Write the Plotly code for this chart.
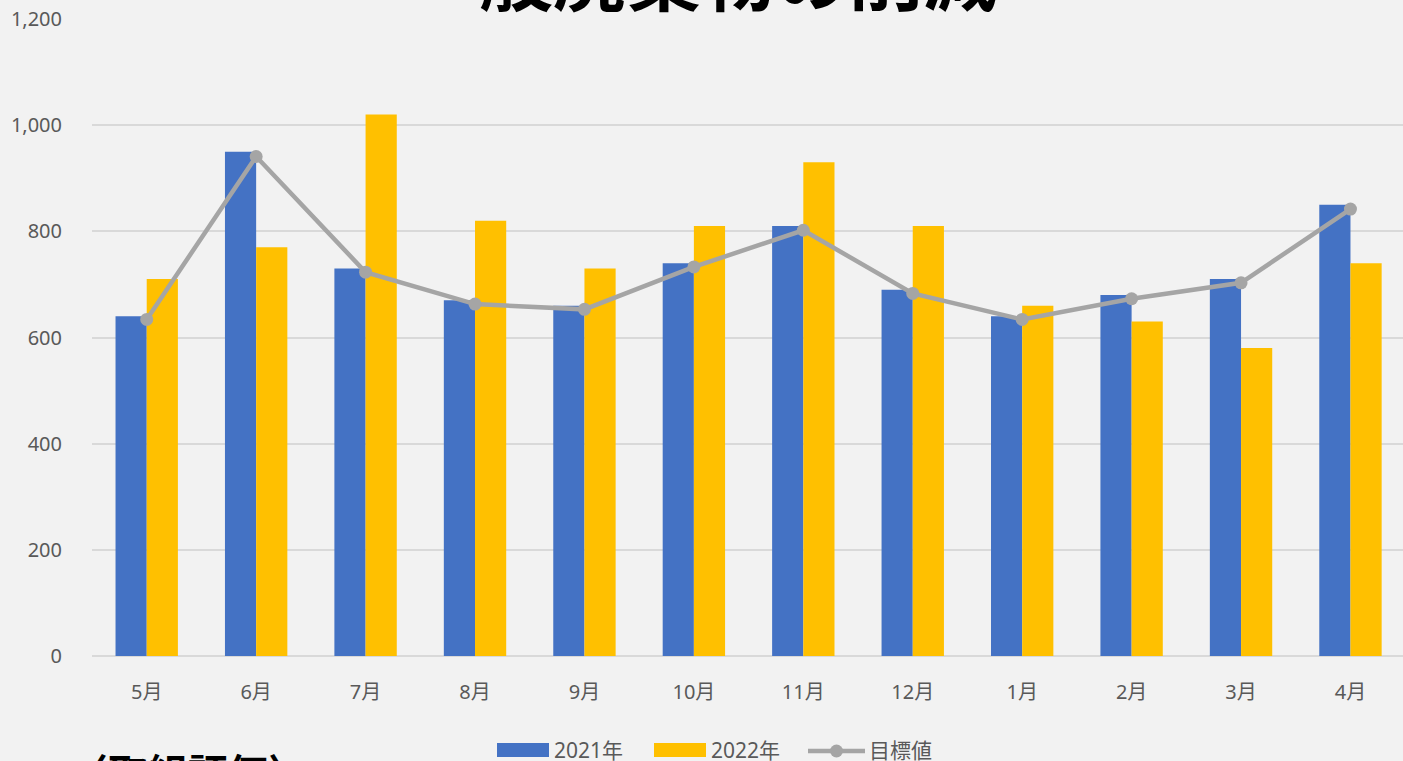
import plotly.graph_objects as go

months = ["5月", "6月", "7月", "8月", "9月", "10月", "11月", "12月", "1月", "2月", "3月", "4月"]
y2021 = [640, 950, 730, 670, 660, 740, 810, 690, 640, 680, 710, 850]
y2022 = [710, 770, 1020, 820, 730, 810, 930, 810, 660, 630, 580, 740]
target = [634, 941, 723, 663, 653, 733, 802, 683, 634, 673, 703, 842]
series_names = ["2021年", "2022年", "目標値"]
title_text = "一般廃棄物の削減"
note_text = "〈取組評価〉"

BLUE = "#4472C4"
YELLOW = "#FFC000"
GRAY = "#A5A5A5"
TXT = "#595959"
BG = "#F2F2F2"

W, H = 1403, 761
L, R, T, B = 92, 0, 19, 105
PW, PH = W - L - R, H - T - B


def px(x):
    return (x - L) / PW


def py(y):
    return (H - B - y) / PH


fig = go.Figure()
fig.add_trace(go.Bar(x=months, y=y2021, name=series_names[0], marker=dict(color=BLUE, line=dict(width=0))))
fig.add_trace(go.Bar(x=months, y=y2022, name=series_names[1], marker=dict(color=YELLOW, line=dict(width=0))))
fig.add_trace(go.Scatter(x=months, y=target, name=series_names[2], mode="lines+markers",
                         line=dict(color=GRAY, width=4.5), marker=dict(color=GRAY, size=13)))

font_main = "Noto Sans, Noto Sans CJK JP, sans-serif"

fig.update_layout(
    width=W, height=H,
    margin=dict(l=L, r=R, t=T, b=B, pad=0),
    paper_bgcolor=BG, plot_bgcolor=BG,
    barmode="group", bargap=0.43, bargroupgap=0,
    showlegend=False,
    font=dict(family=font_main, color=TXT, size=20),
    xaxis=dict(range=[-0.5, 11.48], showgrid=False, showline=False, zeroline=False,
               ticks="", tickfont=dict(size=20, color=TXT), ticklabelstandoff=22),
    yaxis=dict(range=[0, 1200], dtick=200, tickformat=",d", showgrid=True, gridcolor="#D9D9D9",
               gridwidth=1.5, zeroline=True, zerolinecolor="#D9D9D9", zerolinewidth=1.5,
               showline=False, ticks="", tickfont=dict(size=20, color=TXT), ticklabelstandoff=29),
)

shapes = []
annotations = []
# Title (partially cut at top)
annotations.append(dict(text=f"<b>{title_text}</b>", x=px(701), y=py(-28), xref="paper", yref="paper",
                        xanchor="center", yanchor="middle", showarrow=False,
                        font=dict(family="Noto Sans CJK JP", size=74, color="#000000")))
# Bottom-left note (cut at bottom)
annotations.append(dict(text=f"<b>{note_text}</b>",
                        x=px(66), y=py(740), xref="paper", yref="paper",
                        xanchor="left", yanchor="top", showarrow=False,
                        font=dict(family="Noto Sans CJK JP", size=40, color="#000000")))

# Manual legend
ly = 750
shapes.append(dict(type="rect", xref="paper", yref="paper", x0=px(497), x1=px(549), y0=py(743), y1=py(757),
                   fillcolor=BLUE, line=dict(width=0)))
annotations.append(dict(text=series_names[0], x=px(552), y=py(ly), xref="paper", yref="paper",
                        xanchor="left", yanchor="middle", showarrow=False,
                        font=dict(family=font_main, size=21, color=TXT)))
shapes.append(dict(type="rect", xref="paper", yref="paper", x0=px(654), x1=px(706), y0=py(743), y1=py(757),
                   fillcolor=YELLOW, line=dict(width=0)))
annotations.append(dict(text=series_names[1], x=px(709), y=py(ly), xref="paper", yref="paper",
                        xanchor="left", yanchor="middle", showarrow=False,
                        font=dict(family=font_main, size=21, color=TXT)))
shapes.append(dict(type="line", xref="paper", yref="paper", x0=px(808), x1=px(865), y0=py(751), y1=py(751),
                   line=dict(color=GRAY, width=4.5)))
shapes.append(dict(type="circle", xref="paper", yref="paper", x0=px(830), x1=px(843), y0=py(744.5), y1=py(757.5),
                   fillcolor=GRAY, line=dict(width=0)))
annotations.append(dict(text=series_names[2], x=px(867), y=py(ly), xref="paper", yref="paper",
                        xanchor="left", yanchor="middle", showarrow=False,
                        font=dict(family=font_main, size=21, color=TXT)))

fig.update_layout(shapes=shapes, annotations=annotations)
fig.write_html("out.html", config={"displayModeBar": False},
               post_script="document.body.style.margin='0';document.body.style.overflow='hidden';")
